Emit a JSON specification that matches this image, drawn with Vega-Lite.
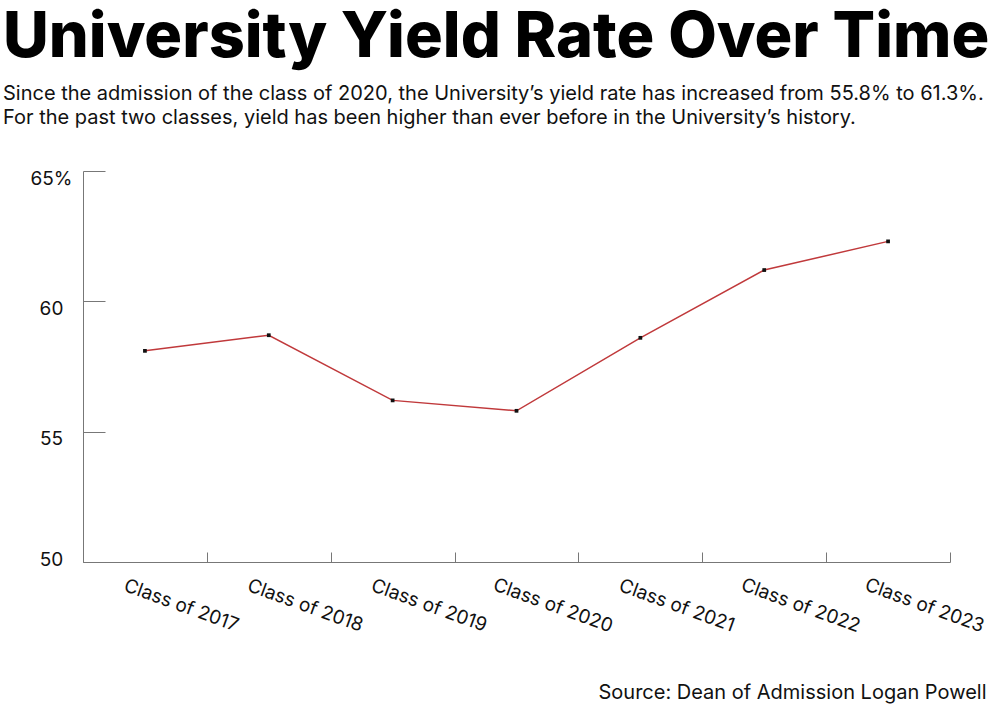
{
  "$schema": "https://vega.github.io/schema/vega-lite/v6.json",
  "autosize": "none",
  "width": 867,
  "height": 391,
  "padding": {"left": 83, "top": 171, "right": 50, "bottom": 143},
  "background": "white",
  "config": {
    "view": {"stroke": null},
    "font": "Inter",
    "axis": {"grid": false, "domainColor": "#777777", "tickColor": "#777777", "labelColor": "#111111", "labelFont": "Inter", "labelFontSize": 19}
  },
  "title": {
    "text": "University Yield Rate Over Time",
    "subtitle": ["Since the admission of the class of 2020, the University’s yield rate has increased from 55.8% to 61.3%.", "For the past two classes, yield has been higher than ever before in the University’s history."],
    "anchor": "start",
    "frame": "group",
    "dx": -80,
    "offset": 41,
    "font": "Inter",
    "fontSize": 63,
    "fontWeight": 800,
    "color": "#000000",
    "subtitleFont": "Inter",
    "subtitleFontSize": 20,
    "subtitleColor": "#111111",
    "subtitleLineHeight": 24,
    "subtitlePadding": 14
  },
  "data": {
    "values": [
      {"cls": "Class of 2017", "yield": 58.1},
      {"cls": "Class of 2018", "yield": 58.7},
      {"cls": "Class of 2019", "yield": 56.2},
      {"cls": "Class of 2020", "yield": 55.8},
      {"cls": "Class of 2021", "yield": 58.6},
      {"cls": "Class of 2022", "yield": 61.2},
      {"cls": "Class of 2023", "yield": 62.3}
    ]
  },
  "encoding": {
    "x": {
      "field": "cls",
      "type": "nominal",
      "sort": null,
      "scale": {"paddingInner": 0, "paddingOuter": 0},
      "axis": {
        "title": "Source: Dean of Admission Logan Powell",
        "titleX": 903,
        "titleY": 136,
        "titleAlign": "right",
        "titleAnchor": null,
        "titleBaseline": "alphabetic",
        "titleFont": "Inter",
        "titleFontSize": 20,
        "titleFontWeight": "normal",
        "titleColor": "#111111",
        "tickBand": "extent",
        "tickSize": -10,
        "labelAngle": 20,
        "labelAlign": "center",
        "labelBaseline": "middle",
        "labelPadding": 53,
        "labelOffset": 36
      }
    },
    "y": {
      "field": "yield",
      "type": "quantitative",
      "scale": {"domain": [50, 65], "nice": false, "zero": false},
      "axis": {
        "title": null,
        "values": [50, 55, 60, 65],
        "tickSize": -22,
        "labelAlign": "center",
        "labelBaseline": "middle",
        "labelPadding": 54,
        "labelOffset": {"condition": {"test": "datum.value == 50", "value": -3}, "value": 7},
        "labelExpr": "datum.value == 65 ? '65%' : datum.label"
      }
    }
  },
  "layer": [
    {"mark": {"type": "line", "color": "#c0393b", "strokeWidth": 1.5}},
    {"mark": {"type": "point", "shape": "square", "filled": true, "color": "#111111", "size": 14, "opacity": 1}}
  ]
}
